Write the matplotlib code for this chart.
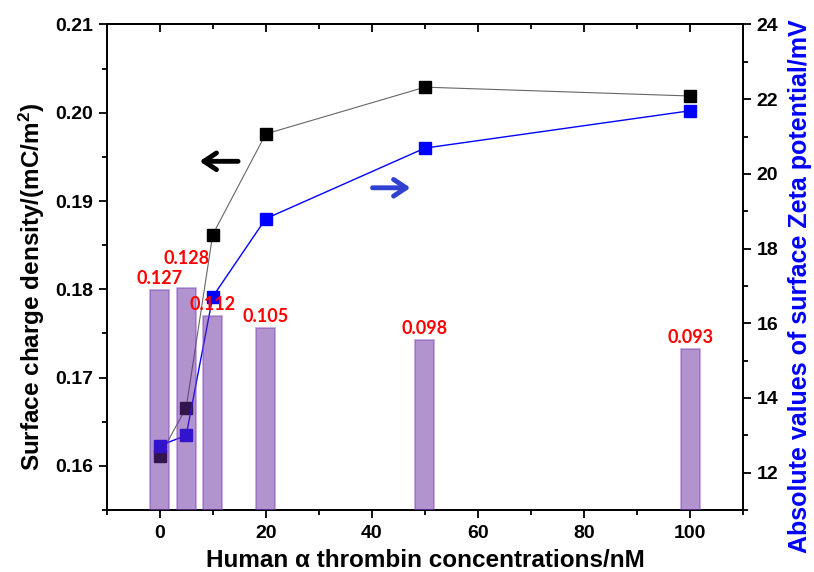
import matplotlib
matplotlib.use('Agg')
import matplotlib.pyplot as plt

plt.rcParams['font.family'] = ['Liberation Sans', 'DejaVu Sans']
plt.rcParams['font.weight'] = 'bold'
plt.rcParams['mathtext.fontset'] = 'custom'
plt.rcParams['mathtext.rm'] = 'Liberation Sans:bold'
plt.rcParams['mathtext.bf'] = 'Liberation Sans:bold'
plt.rcParams['mathtext.it'] = 'Liberation Sans:bold:italic'

# data
conc = [0, 5, 10, 20, 50, 100]
charge_density = [0.1611, 0.1666, 0.1862, 0.1976, 0.2029, 0.2019]
zeta = [12.72, 13.0, 16.71, 18.80, 20.69, 21.69]
bar_vals = [0.127, 0.128, 0.112, 0.105, 0.098, 0.093]

fig = plt.figure(figsize=(8.14, 5.72), dpi=100)
ax = fig.add_axes([0.131, 0.1084, 0.782, 0.8488])
ax2 = ax.twinx()
ax3 = ax.twinx()

# left axis: surface charge density
ax.plot(conc, charge_density, color='#666666', lw=0.8, marker='s',
        markersize=8.5, markerfacecolor='black', markeredgecolor='black')
ax.set_xlim(-10, 110)
ax.set_ylim(0.155, 0.21)
ax.set_xticks([0, 20, 40, 60, 80, 100])
ax.set_xticks(range(-10, 111, 10), minor=True)
ax.set_yticks([0.16, 0.17, 0.18, 0.19, 0.20, 0.21])
ax.set_yticklabels(['0.16', '0.17', '0.18', '0.19', '0.20', '0.21'])
ax.set_yticks([0.155 + 0.005 * i for i in range(12)], minor=True)
ax.set_xlabel('Human α thrombin concentrations/nM', fontsize=17.5, fontweight='bold')
ax.set_ylabel(r'Surface charge density/(mC/m$^{2}$)', fontsize=17.5, fontweight='bold')
ax.xaxis.set_label_coords(0.5, -0.08)
ax.yaxis.set_label_coords(-0.094, 0.46)

# right axis: zeta potential
ax2.plot(conc, zeta, color='#0000ff', lw=1.0, marker='s',
         markersize=8.5, markerfacecolor='#0000ff', markeredgecolor='#0000ff')
ax2.set_ylim(11, 24)
ax2.set_yticks([12, 14, 16, 18, 20, 22, 24])
ax2.set_yticks(range(11, 25), minor=True)
ax2.set_ylabel('Absolute values of surface Zeta potential/mV', fontsize=18,
               fontweight='bold', color='#0000ff')
ax2.yaxis.set_label_coords(1.07, 0.46)

# hidden third axis for the bars
ax3.bar(conc, bar_vals, width=3.6, color='#65299d', alpha=0.5,
        edgecolor='#7d45b8', linewidth=1.2)
ax3.set_ylim(0, 0.28)
ax3.axis('off')
for i, (x, v) in enumerate(zip(conc, bar_vals)):
    dy = 15 if i == 1 else 2
    ax3.annotate(f'{v:.3f}', (x, v), xytext=(0, dy), textcoords='offset points',
                 ha='center', va='bottom', color='#ff0000', fontsize=13,
                 fontweight='bold', family=['Lato', 'DejaVu Sans'])

# arrows pointing to the axes
ax.annotate('', xy=(7.0, 0.1945), xytext=(15.3, 0.1945),
            arrowprops=dict(arrowstyle='->,head_length=0.9,head_width=0.6',
                            color='black', lw=3.5))
ax.annotate('', xy=(47.8, 0.1915), xytext=(39.6, 0.1915),
            arrowprops=dict(arrowstyle='->,head_length=0.9,head_width=0.6',
                            color='#3040d0', lw=3.5))

for a in (ax, ax2):
    for s in a.spines.values():
        s.set_linewidth(1.3)
ax.tick_params(axis='both', which='major', labelsize=14, length=6, width=1.3)
ax.tick_params(axis='both', which='minor', length=3.5, width=1.3)
ax.tick_params(axis='x', which='major', pad=5)
ax2.tick_params(axis='y', which='major', labelsize=14, length=6, width=1.3)
ax2.tick_params(axis='y', which='minor', length=3.5, width=1.3)

# top ticks go inward: use a secondary axis
top = ax.secondary_xaxis('top')
top.set_xticks([0, 20, 40, 60, 80, 100])
top.set_xticks(range(-10, 111, 10), minor=True)
top.tick_params(which='major', direction='in', length=6, width=1.3, labeltop=False)
top.tick_params(which='minor', direction='in', length=3.5, width=1.3)
top.set_xticklabels([])
top.spines['top'].set_linewidth(1.3)

for lab in ax.get_xticklabels() + ax.get_yticklabels() + ax2.get_yticklabels():
    lab.set_fontweight('bold')

fig.savefig('out.png', dpi=100)
